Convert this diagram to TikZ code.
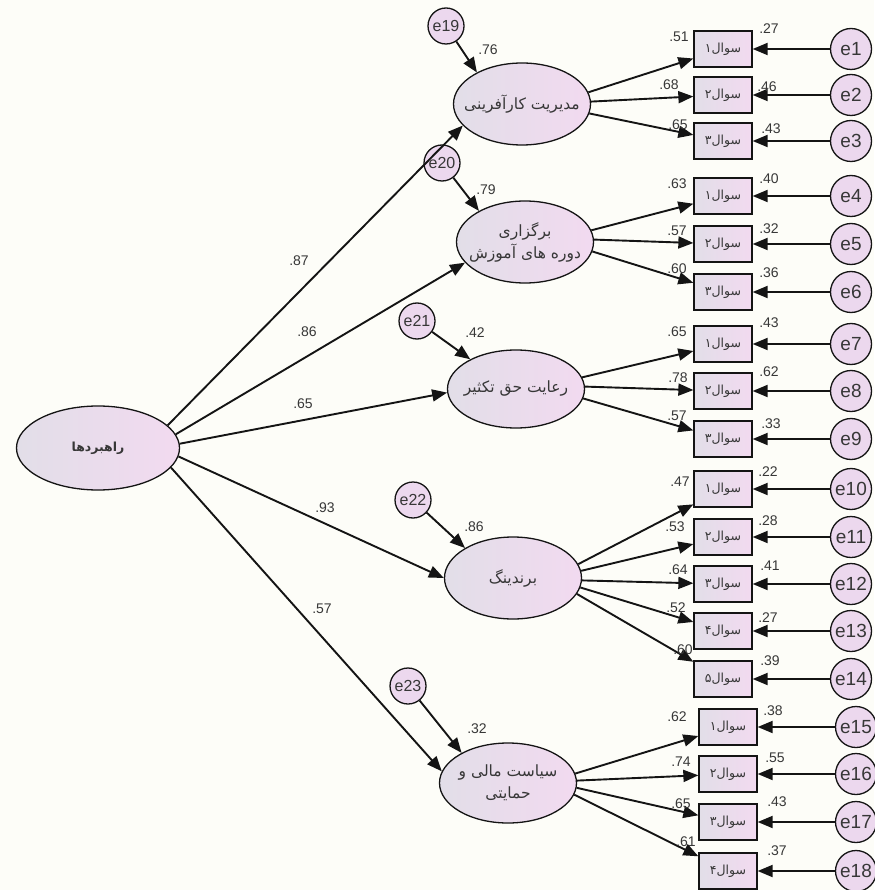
\documentclass[tikz,border=0pt]{standalone}
\usepackage{fontspec}
\setmainfont{Liberation Sans}
\newfontfamily\arabicfont[Script=Arabic]{DejaVu Sans}
\TeXXeTstate=1
\usetikzlibrary{shapes, arrows.meta, positioning}
\newcommand{\fatext}[1]{{\arabicfont\beginR #1\endR}}
\definecolor{bgcream}{RGB}{253,253,248}
\definecolor{lavgray}{RGB}{226,222,232}
\definecolor{lavpink}{RGB}{242,218,240}
\definecolor{errfill}{RGB}{236,216,238}
\definecolor{inkgray}{RGB}{55,55,55}
\definecolor{linegray}{RGB}{20,20,20}
\tikzstyle{latent} = [ellipse, draw=linegray, line width=1.3pt, left color=lavgray, right color=lavpink, text=inkgray, align=center, minimum width=137pt, minimum height=82pt, inner sep=-24pt, font=\fontsize{15.5}{22}\selectfont]
\tikzstyle{obs} = [rectangle, draw=linegray, line width=1.3pt, left color=lavgray, right color=lavpink, text=inkgray, minimum width=58pt, minimum height=36pt, inner sep=0pt, font=\fontsize{12.5}{14}\selectfont]
\tikzstyle{err} = [circle, draw=linegray, line width=1.3pt, fill=errfill, text=inkgray, minimum size=41pt, inner sep=0pt, font=\fontsize{19}{21}\selectfont]
\tikzstyle{terr} = [err, minimum size=36pt, font=\fontsize{16}{18}\selectfont]
\tikzstyle{coef} = [text=inkgray, inner sep=0pt, font=\fontsize{14}{16}\selectfont]
\tikzstyle{line} = [draw=linegray, line width=1.9pt, -{Triangle[length=15pt, width=12pt]}]

\begin{document}
\begin{tikzpicture}[x=1pt, y=-1pt, node distance=128pt]
    \useasboundingbox (0,0) rectangle (874,890);
    \fill[bgcream] (0,0) rectangle (874,890);

    % main factor and first-order factors
    \node[latent, minimum width=163pt, minimum height=84pt, font=\fontsize{12.5}{14}\selectfont] (main) at (98,448) {\bfseries\fatext{راهبردها}};
    \node[latent] (lat1) at (522,104) {\fatext{مدیریت کارآفرینی}};
    \node[latent] (lat2) at (525,242) {\fatext{برگزاری}\\\fatext{دوره های آموزش}};
    \node[latent, minimum height=78pt] (lat3) at (516,389) {\fatext{رعایت حق تکثیر}};
    \node[latent] (lat4) at (513,578) {\fatext{برندینگ}};
    \node[latent, minimum height=80pt] (lat5) at (508,783) {\fatext{سیاست مالی و}\\\fatext{حمایتی}};

    % disturbances
    \node[terr] (e19) at (446,26) {e19};
    \node[terr] (e20) at (442,163) {e20};
    \node[terr] (e21) at (417,321) {e21};
    \node[terr] (e22) at (413,500) {e22};
    \node[terr] (e23) at (408,686) {e23};

    % items
    \node[obs] (q1) at (723,49) {\fatext{سوال۱}};
    \node[obs] (q2) at (723,95) {\fatext{سوال۲}};
    \node[obs] (q3) at (723,141) {\fatext{سوال۳}};
    \node[obs] (q4) at (723,196) {\fatext{سوال۱}};
    \node[obs] (q5) at (723,244) {\fatext{سوال۲}};
    \node[obs] (q6) at (723,292) {\fatext{سوال۳}};
    \node[obs] (q7) at (723,344) {\fatext{سوال۱}};
    \node[obs] (q8) at (723,391) {\fatext{سوال۲}};
    \node[obs] (q9) at (723,439) {\fatext{سوال۳}};
    \node[obs] (q10) at (723,489) {\fatext{سوال۱}};
    \node[obs] (q11) at (723,537) {\fatext{سوال۲}};
    \node[obs] (q12) at (723,584) {\fatext{سوال۳}};
    \node[obs] (q13) at (723,631) {\fatext{سوال۴}};
    \node[obs] (q14) at (723,679) {\fatext{سوال۵}};
    \node[obs] (q15) at (728,727) {\fatext{سوال۱}};
    \node[obs] (q16) at (728,774) {\fatext{سوال۲}};
    \node[obs] (q17) at (728,822) {\fatext{سوال۳}};
    \node[obs] (q18) at (728,871) {\fatext{سوال۴}};

    % item errors
    \node[err, right of=q1] (e1) {e1};
    \node[err, right of=q2] (e2) {e2};
    \node[err, right of=q3] (e3) {e3};
    \node[err, right of=q4] (e4) {e4};
    \node[err, right of=q5] (e5) {e5};
    \node[err, right of=q6] (e6) {e6};
    \node[err, right of=q7] (e7) {e7};
    \node[err, right of=q8] (e8) {e8};
    \node[err, right of=q9] (e9) {e9};
    \node[err, right of=q10] (e10) {e10};
    \node[err, right of=q11] (e11) {e11};
    \node[err, right of=q12] (e12) {e12};
    \node[err, right of=q13] (e13) {e13};
    \node[err, right of=q14] (e14) {e14};
    \node[err, right of=q15] (e15) {e15};
    \node[err, right of=q16] (e16) {e16};
    \node[err, right of=q17] (e17) {e17};
    \node[err, right of=q18] (e18) {e18};

    % structural paths
    \path[line] (main.18) -- (lat1.200);
    \path[line] (main.10) -- (lat2.199);
    \path[line] (main.3) -- (lat3.183);
    \path[line] (main.-6) -- (lat4.180);
    \path[line] (main.-15) -- (lat5.170);
    \path[line] (e19) -- (lat1.145);
    \path[line] (e20) -- (lat2.146);
    \path[line] (e21) -- (lat3.147);
    \path[line] (e22) -- (lat4.148);
    \path[line] (e23) -- (lat5.147);

    % measurement paths
    \path[line] (lat1.10) -- (q1);
    \path[line] (lat1.2) -- (q2);
    \path[line] (lat1.-8) -- (q3);
    \path[line] (lat2.10) -- (q4);
    \path[line] (lat2.2) -- (q5);
    \path[line] (lat2.-8) -- (q6);
    \path[line] (lat3.10) -- (q7);
    \path[line] (lat3.2) -- (q8);
    \path[line] (lat3.-8) -- (q9);
    \path[line] (lat4.12) -- (q10);
    \path[line] (lat4.6) -- (q11);
    \path[line] (lat4.-2) -- (q12);
    \path[line] (lat4.-8) -- (q13);
    \path[line] (lat4.-14) -- (q14);
    \path[line] (lat5.8) -- (q15);
    \path[line] (lat5.2) -- (q16);
    \path[line] (lat5.-4) -- (q17);
    \path[line] (lat5.-10) -- (q18);
    \path[line] (e1) -- (q1);
    \path[line] (e2) -- (q2);
    \path[line] (e3) -- (q3);
    \path[line] (e4) -- (q4);
    \path[line] (e5) -- (q5);
    \path[line] (e6) -- (q6);
    \path[line] (e7) -- (q7);
    \path[line] (e8) -- (q8);
    \path[line] (e9) -- (q9);
    \path[line] (e10) -- (q10);
    \path[line] (e11) -- (q11);
    \path[line] (e12) -- (q12);
    \path[line] (e13) -- (q13);
    \path[line] (e14) -- (q14);
    \path[line] (e15) -- (q15);
    \path[line] (e16) -- (q16);
    \path[line] (e17) -- (q17);
    \path[line] (e18) -- (q18);

    % estimates
    \node[coef] (w1) at (299,261) {.87};
    \node[coef] (w2) at (307,332) {.86};
    \node[coef] (w3) at (303,404) {.65};
    \node[coef] (w4) at (325,508) {.93};
    \node[coef] (w5) at (322,609) {.57};
    \node[coef] (s1) at (488,50) {.76};
    \node[coef] (s2) at (486,190) {.79};
    \node[coef] (s3) at (475,333) {.42};
    \node[coef] (s4) at (474,527) {.86};
    \node[coef] (s5) at (477,729) {.32};
    \node[coef] (l1) at (679,37) {.51};   \node[coef] (r1) at (769,29) {.27};
    \node[coef] (l2) at (669,85) {.68};   \node[coef] (r2) at (767,87) {.46};
    \node[coef] (l3) at (678,125) {.65};  \node[coef] (r3) at (771,129) {.43};
    \node[coef] (l4) at (677,184) {.63};  \node[coef] (r4) at (769,179) {.40};
    \node[coef] (l5) at (677,231) {.57};  \node[coef] (r5) at (769,229) {.32};
    \node[coef] (l6) at (677,269) {.60};  \node[coef] (r6) at (769,273) {.36};
    \node[coef] (l7) at (677,332) {.65};  \node[coef] (r7) at (769,323) {.43};
    \node[coef] (l8) at (678,378) {.78};  \node[coef] (r8) at (769,372) {.62};
    \node[coef] (l9) at (677,416) {.57};  \node[coef] (r9) at (771,424) {.33};
    \node[coef] (l10) at (680,482) {.47}; \node[coef] (r10) at (768,472) {.22};
    \node[coef] (l11) at (675,527) {.53}; \node[coef] (r11) at (768,521) {.28};
    \node[coef] (l12) at (678,570) {.64}; \node[coef] (r12) at (770,566) {.41};
    \node[coef] (l13) at (676,608) {.52}; \node[coef] (r13) at (768,618) {.27};
    \node[coef] (l14) at (683,650) {.60}; \node[coef] (r14) at (770,661) {.39};
    \node[coef] (l15) at (677,717) {.62}; \node[coef] (r15) at (773,711) {.38};
    \node[coef] (l16) at (681,762) {.74}; \node[coef] (r16) at (775,758) {.55};
    \node[coef] (l17) at (681,804) {.65}; \node[coef] (r17) at (777,802) {.43};
    \node[coef] (l18) at (686,842) {.61}; \node[coef] (r18) at (777,851) {.37};
\end{tikzpicture}
\end{document}
